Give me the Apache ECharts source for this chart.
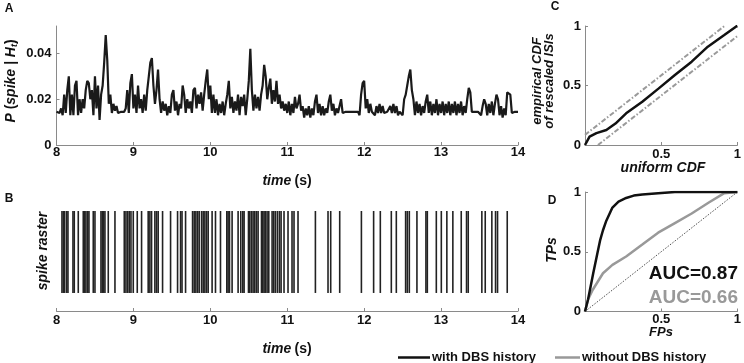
<!DOCTYPE html>
<html><head><meta charset="utf-8">
<script src="https://cdn.jsdelivr.net/npm/echarts@6/dist/echarts.min.js"></script>
<style>html,body{margin:0;padding:0;background:#fff}#c{width:744px;height:363px}</style>
</head><body><div id="c"></div>
<script>
// ---- Panel A: P(spike | H_t), sampled every 0.02 s from 8.00 s to 14.00 s
const probStart = 8, probStep = 0.02;
const probValues = [
.0145,.0145,.014,.016,.013,.022,.014,.024,.030,.013,
.022,.013,.026,.028,.013,.020,.014,.020,.016,.024,
.028,.027,.020,.024,.013,.030,.016,.026,.011,.022,
.026,.036,.048,.037,.018,.022,.014,.018,.015,.017,
.014,.0145,.0145,.014,.0145,.016,.024,.014,.027,.031,
.016,.022,.014,.026,.016,.020,.014,.022,.015,.024,
.030,.036,.038,.026,.018,.024,.033,.020,.014,.019,
.015,.018,.013,.017,.014,.022,.024,.015,.019,.013,
.018,.016,.026,.022,.014,.020,.016,.019,.014,.024,
.025,.016,.022,.018,.023,.015,.022,.028,.033,.020,
.026,.014,.022,.014,.020,.013,.018,.014,.019,.013,
.018,.022,.028,.016,.021,.014,.019,.015,.022,.013,
.021,.017,.022,.013,.020,.028,.042,.024,.015,.022,
.016,.021,.015,.022,.026,.035,.030,.020,.025,.029,
.018,.024,.019,.028,.018,.022,.016,.019,.015,.018,
.014,.019,.013,.018,.014,.021,.016,.018,.022,.015,
.017,.012,.016,.013,.017,.012,.016,.013,.019,.022,
.014,.018,.013,.017,.013,.016,.014,.019,.022,.015,
.018,.013,.016,.014,.017,.020,.014,.0145,.0145,.0145,
.0145,.0145,.0145,.0145,.0145,.0145,.0145,.013,.022,.027,
.028,.016,.020,.014,.018,.0145,.0145,.013,.017,.014,
.018,.014,.017,.014,.0145,.0145,.0145,.017,.014,.018,
.014,.017,.013,.0145,.0145,.013,.020,.022,.026,.030,
.033,.024,.020,.013,.019,.014,.018,.013,.017,.014,
.019,.022,.014,.019,.013,.018,.014,.020,.013,.018,
.014,.019,.013,.018,.014,.019,.013,.018,.014,.019,
.013,.018,.014,.019,.013,.017,.014,.020,.025,.023,
.0145,.0145,.0145,.0145,.0145,.0145,.013,.017,.020,.018,
.013,.018,.014,.019,.013,.018,.022,.020,.013,.017,
.012,.016,.013,.023,.023,.022,.014,.0145,.0145,.0145,
.0145
];
const timeTicks = [8, 9, 10, 11, 12, 13, 14];

// ---- Panel B: spike raster (spike times in s)
const spikeTimes = [
8.071,8.089,8.106,8.132,8.149,8.214,8.231,8.283,8.348,8.366,8.383,8.405,8.422,8.478,8.500,
8.578,8.595,8.613,8.630,8.673,8.760,8.881,8.903,8.925,8.946,8.968,8.998,9.050,9.106,9.192,
9.214,9.236,9.279,9.301,9.322,9.379,9.483,9.574,9.613,9.632,9.678,9.769,9.790,9.812,9.834,
9.855,9.886,9.907,9.929,9.951,9.972,10.023,10.067,10.132,10.214,10.231,10.249,10.283,10.361,
10.396,10.422,10.439,10.496,10.513,10.535,10.556,10.578,10.600,10.621,10.665,10.682,10.699,
10.717,10.738,10.760,10.803,10.825,10.847,10.873,10.899,10.920,10.958,11.010,11.062,11.088,
11.140,11.366,11.530,11.565,11.682,11.964,12.123,12.210,12.353,12.418,12.539,12.561,12.587,
12.686,12.803,12.821,12.938,13.003,13.075,13.153,13.262,13.331,13.353,13.530,13.574,13.660,
13.708,13.734,13.860
];

// ---- Panel C: KS plot
const ksUniform   = [0, 0.03, 0.075, 0.14, 0.2, 0.27, 0.376, 0.484, 0.59, 0.70, 0.806, 0.914, 0.99, 1];
const ksEmpirical = [0, 0.07, 0.10, 0.126, 0.18, 0.266, 0.364, 0.476, 0.588, 0.70, 0.826, 0.924, 0.994, 1];
const ksUpperX = [0, 0.915], ksUpperY = [0.085, 1];
const ksLowerX = [0.085, 1], ksLowerY = [0, 0.915];

// ---- Panel D: ROC curves
const rocWithFP = [0, 0.02, 0.054, 0.08, 0.10, 0.118, 0.14, 0.18, 0.22, 0.27, 0.32, 0.376, 0.48, 0.59, 0.70, 1];
const rocWithTP = [0, 0.10, 0.32, 0.48, 0.60, 0.68, 0.76, 0.87, 0.92, 0.95, 0.97, 0.98, 0.99, 1, 1, 1];
const rocWithoutFP = [0, 0.02, 0.05, 0.118, 0.18, 0.27, 0.376, 0.48, 0.59, 0.70, 0.81, 0.914, 1];
const rocWithoutTP = [0, 0.10, 0.18, 0.32, 0.39, 0.46, 0.56, 0.66, 0.74, 0.82, 0.91, 0.99, 1];
const chanceX = [0, 1], chanceY = [0, 1];
const aucWith = 'AUC=0.87', aucWithout = 'AUC=0.66';
const legendNames = ['with DBS history', 'without DBS history'];

const FF = "'Liberation Sans', Arial, Helvetica, sans-serif";
const AX = '#8a8a8a';
const zip = (a, b) => a.map((v, i) => [v, b[i]]);
const probData = probValues.map((v, i) => [probStart + i * probStep, v]);

function lab(margin, extra) {
  return Object.assign({ color: '#111', fontFamily: FF, fontWeight: 'bold', fontSize: 13, margin: margin }, extra || {});
}
function xAx(gi, extra) {
  return Object.assign({
    type: 'value', gridIndex: gi,
    axisLine: { show: true, onZero: false, lineStyle: { color: AX, width: 1 } },
    axisTick: { show: true, inside: true, length: 3, lineStyle: { color: AX } },
    axisLabel: lab(2),
    splitLine: { show: false }
  }, extra);
}

const chart = echarts.init(document.getElementById('c'), null, { renderer: 'canvas' });
chart.setOption({
  animation: false,
  backgroundColor: '#fff',
  grid: [
    { left: 56.5, top: 26, width: 461.5, height: 119 },
    { left: 56.5, top: 211, width: 461.5, height: 100 },
    { left: 585, top: 26, width: 155, height: 119 },
    { left: 585, top: 192, width: 155, height: 119.5 }
  ],
  xAxis: [
    xAx(0, { min: 8, max: 14, interval: 1, axisLabel: lab(1) }),
    xAx(1, { min: 8, max: 14, interval: 1, axisLabel: lab(3) }),
    xAx(2, { min: 0, max: 1, interval: 0.5, axisLabel: lab(3, { showMinLabel: false }) }),
    xAx(3, { min: 0, max: 1, interval: 0.5, axisLabel: lab(1, { showMinLabel: false }) })
  ],
  yAxis: [
    xAx(0, { min: 0, max: 0.052, interval: 0.02, axisLabel: lab(5, { showMaxLabel: false }) }),
    { type: 'value', gridIndex: 1, min: -0.22, max: 1, show: false },
    xAx(2, { min: 0, max: 1, interval: 0.5, axisLabel: lab(4) }),
    xAx(3, { min: 0, max: 1, interval: 0.5, axisLabel: lab(4) })
  ],
  legend: [
    { data: [legendNames[0]], left: 393, top: 346, icon: 'rect', itemWidth: 32, itemHeight: 2.5, itemGap: 0,
      textStyle: { fontFamily: FF, fontWeight: 'bold', fontSize: 13, color: '#111', padding: [0, 0, 0, -3] } },
    { data: [legendNames[1]], left: 550, top: 346, icon: 'rect', itemWidth: 25, itemHeight: 2.5, itemGap: 0,
      textStyle: { fontFamily: FF, fontWeight: 'bold', fontSize: 13, color: '#111', padding: [0, 0, 0, -3] } }
  ],
  series: [
    { type: 'line', xAxisIndex: 0, yAxisIndex: 0, data: probData, showSymbol: false, symbol: 'none',
      lineStyle: { color: '#1a1a1a', width: 2.2 }, silent: true },
    { type: 'custom', xAxisIndex: 1, yAxisIndex: 1, data: spikeTimes.map(t => [t, 1]), encode: { x: 0, y: 1 },
      renderItem: function (params, api) {
        const p0 = api.coord([api.value(0), 0]);
        const p1 = api.coord([api.value(0), 1]);
        return { type: 'line', shape: { x1: p0[0], y1: p0[1], x2: p1[0], y2: p1[1] },
                 style: { stroke: '#222', lineWidth: 1.6 } };
      }, silent: true },
    { type: 'line', xAxisIndex: 2, yAxisIndex: 2, data: zip(ksUpperX, ksUpperY), symbol: 'none',
      lineStyle: { color: '#9a9a9a', width: 2, type: [5, 2, 1.5, 2] }, silent: true },
    { type: 'line', xAxisIndex: 2, yAxisIndex: 2, data: zip(ksLowerX, ksLowerY), symbol: 'none',
      lineStyle: { color: '#9a9a9a', width: 2, type: [5, 2, 1.5, 2] }, silent: true },
    { type: 'line', xAxisIndex: 2, yAxisIndex: 2, data: zip(ksUniform, ksEmpirical), symbol: 'none',
      lineStyle: { color: '#111', width: 2.5 }, silent: true },
    { type: 'line', xAxisIndex: 3, yAxisIndex: 3, data: zip(chanceX, chanceY), symbol: 'none',
      lineStyle: { color: '#222', width: 0.8, type: [1.5, 1.5] }, silent: true },
    { name: legendNames[1], type: 'line', xAxisIndex: 3, yAxisIndex: 3, data: zip(rocWithoutFP, rocWithoutTP), symbol: 'none',
      color: '#999', lineStyle: { color: '#999', width: 2.5 }, silent: true },
    { name: legendNames[0], type: 'line', xAxisIndex: 3, yAxisIndex: 3, data: zip(rocWithFP, rocWithTP), symbol: 'none',
      color: '#111', lineStyle: { color: '#111', width: 2.5 }, silent: true }
  ],
  graphic: [
    { type: 'text', x: 9, y: 8.5, style: { text: 'A', font: 'bold 12px ' + FF, fill: '#111', align: 'center', verticalAlign: 'middle', textAlign: 'center', textVerticalAlign: 'middle' } },
    { type: 'text', x: 9, y: 198.5, style: { text: 'B', font: 'bold 12px ' + FF, fill: '#111', align: 'center', verticalAlign: 'middle', textAlign: 'center', textVerticalAlign: 'middle' } },
    { type: 'text', x: 555, y: 7, style: { text: 'C', font: 'bold 12px ' + FF, fill: '#111', align: 'center', verticalAlign: 'middle', textAlign: 'center', textVerticalAlign: 'middle' } },
    { type: 'text', x: 552, y: 201, style: { text: 'D', font: 'bold 12px ' + FF, fill: '#111', align: 'center', verticalAlign: 'middle', textAlign: 'center', textVerticalAlign: 'middle' } },
    { type: 'text', x: 11, y: 81, rotation: Math.PI / 2,
      style: { text: '{i|P}{n| (}{i|spike | H}{s|t}{n|)}', fill: '#111', align: 'center', verticalAlign: 'middle', textAlign: 'center', textVerticalAlign: 'middle',
        rich: { i: { font: 'italic bold 14px ' + FF, fill: '#111' }, n: { font: 'bold 14px ' + FF, fill: '#111' },
                s: { font: 'italic bold 9px ' + FF, fill: '#111', padding: [7, 0, 0, 0] } } } },
    { type: 'text', x: 287, y: 181,
      style: { text: '{i|time} {n|(s)}', fill: '#111', align: 'center', verticalAlign: 'middle', textAlign: 'center', textVerticalAlign: 'middle',
        rich: { i: { font: 'italic bold 14px ' + FF, fill: '#111' }, n: { font: 'bold 14px ' + FF, fill: '#111' } } } },
    { type: 'text', x: 287, y: 349,
      style: { text: '{i|time} {n|(s)}', fill: '#111', align: 'center', verticalAlign: 'middle', textAlign: 'center', textVerticalAlign: 'middle',
        rich: { i: { font: 'italic bold 14px ' + FF, fill: '#111' }, n: { font: 'bold 14px ' + FF, fill: '#111' } } } },
    { type: 'text', x: 43, y: 251, rotation: Math.PI / 2,
      style: { text: 'spike raster', font: 'italic bold 14px ' + FF, fill: '#111', align: 'center', verticalAlign: 'middle', textAlign: 'center', textVerticalAlign: 'middle' } },
    { type: 'text', x: 543, y: 81, rotation: Math.PI / 2,
      style: { text: 'empirical CDF\nof rescaled ISIs', font: 'italic bold 13px ' + FF, lineHeight: 12, fill: '#111', align: 'center', verticalAlign: 'middle', textAlign: 'center', textVerticalAlign: 'middle' } },
    { type: 'text', x: 663, y: 168,
      style: { text: 'uniform CDF', font: 'italic bold 14px ' + FF, fill: '#111', align: 'center', verticalAlign: 'middle', textAlign: 'center', textVerticalAlign: 'middle' } },
    { type: 'text', x: 552, y: 250, rotation: Math.PI / 2,
      style: { text: 'TPs', font: 'italic bold 14px ' + FF, fill: '#111', align: 'center', verticalAlign: 'middle', textAlign: 'center', textVerticalAlign: 'middle' } },
    { type: 'text', x: 661, y: 332,
      style: { text: 'FPs', font: 'italic bold 13px ' + FF, fill: '#111', align: 'center', verticalAlign: 'middle', textAlign: 'center', textVerticalAlign: 'middle' } },
    { type: 'text', x: 738, y: 274,
      style: { text: aucWith, font: 'bold 19px ' + FF, fill: '#111', align: 'right', verticalAlign: 'middle', textAlign: 'right', textVerticalAlign: 'middle' } },
    { type: 'text', x: 738, y: 298,
      style: { text: aucWithout, font: 'bold 19px ' + FF, fill: '#999', align: 'right', verticalAlign: 'middle', textAlign: 'right', textVerticalAlign: 'middle' } }
  ]
});
</script></body></html>
